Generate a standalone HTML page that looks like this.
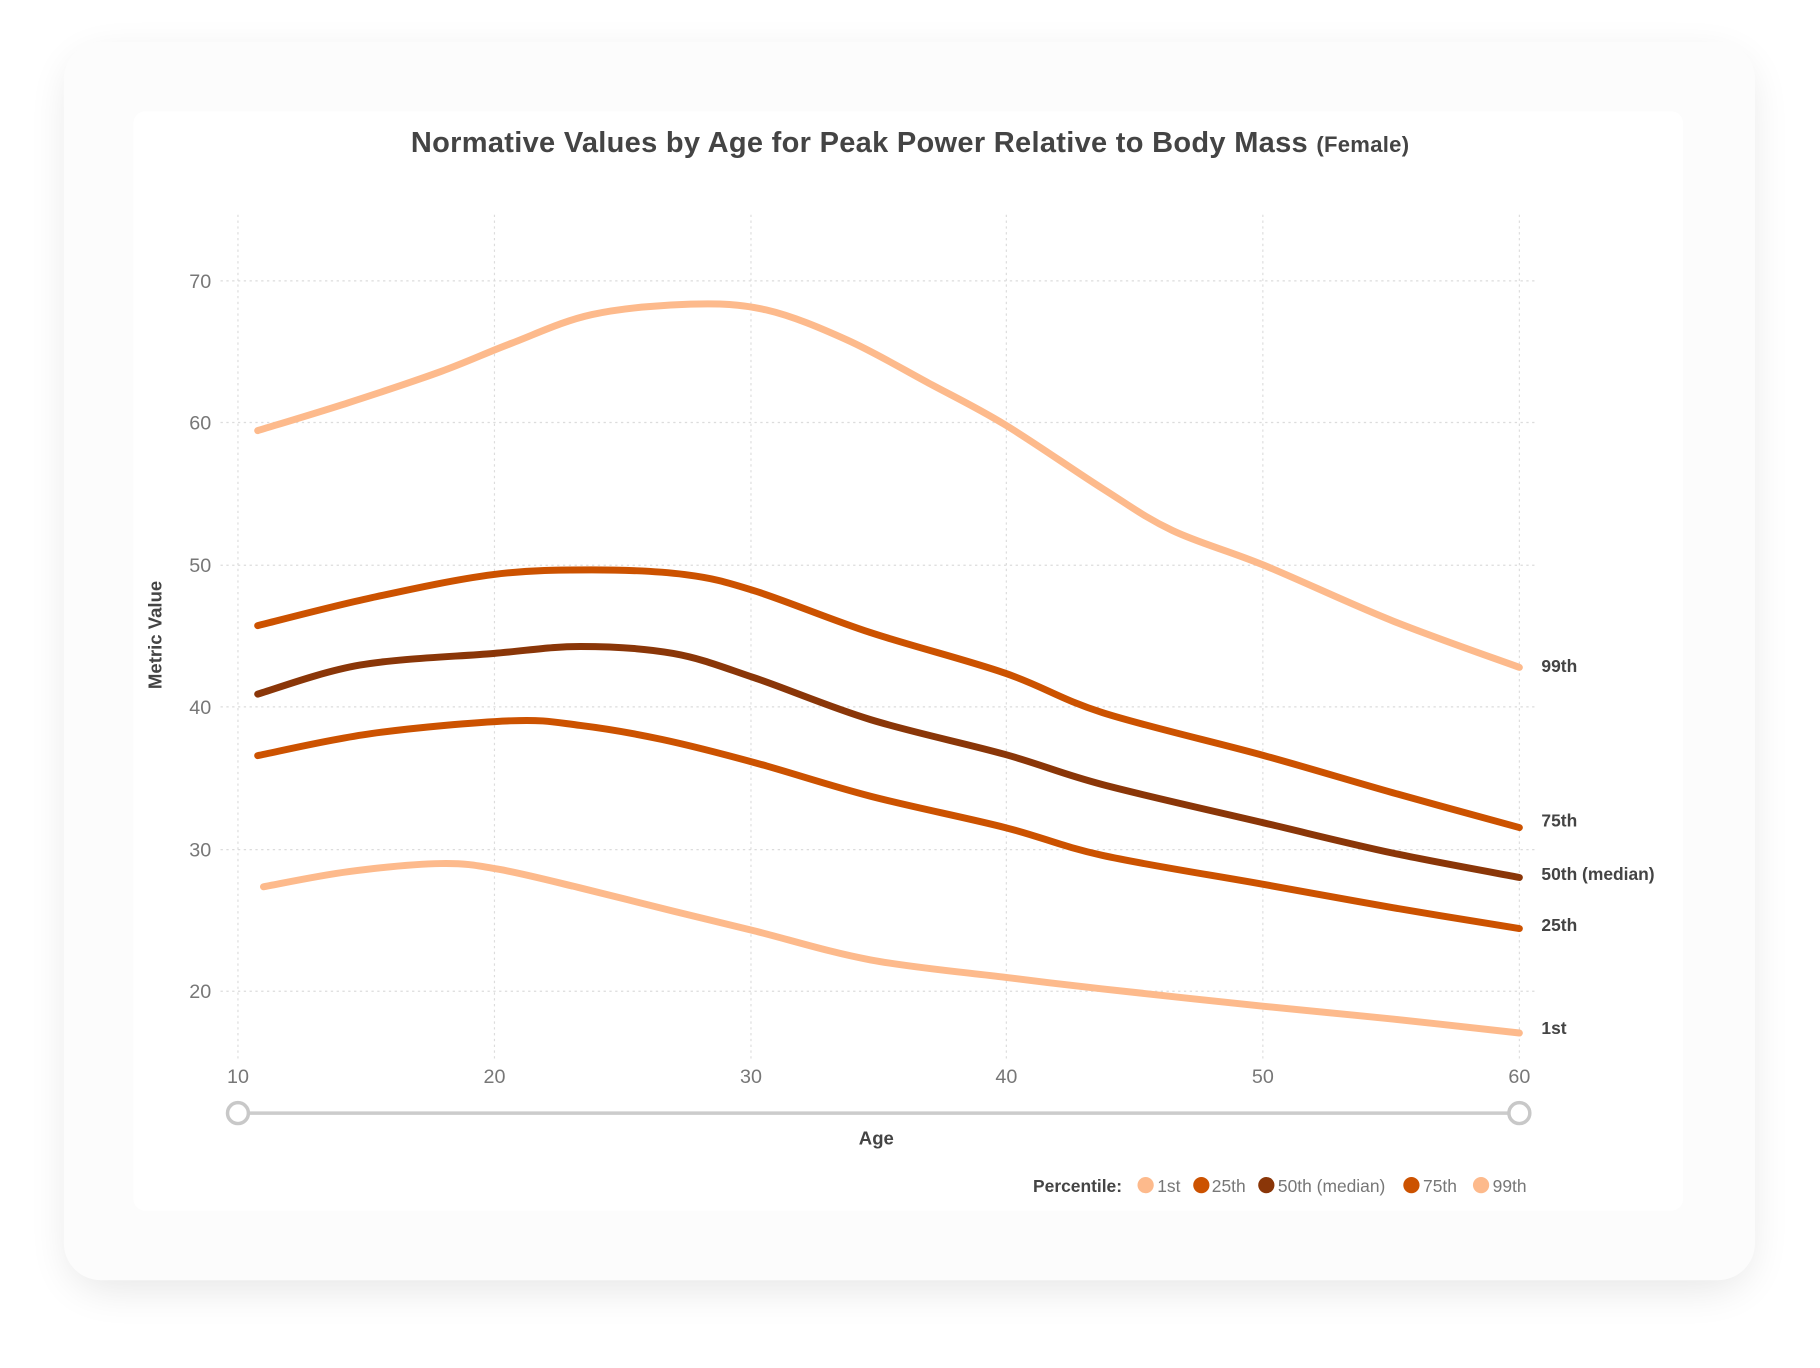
<!DOCTYPE html>
<html><head><meta charset="utf-8"><style>
html,body{margin:0;padding:0;background:#fff;width:1820px;height:1368px;overflow:hidden}
svg{display:block}
text{font-family:"Liberation Sans",sans-serif}
</style></head><body>
<svg width="1820" height="1368" viewBox="0 0 1568 1178.6" xmlns="http://www.w3.org/2000/svg">
<defs>
<filter id="sh" x="-10%" y="-10%" width="120%" height="125%"><feGaussianBlur stdDeviation="18"/></filter>
</defs>
<rect x="60" y="50" width="1447" height="1060" rx="32" fill="#000" opacity="0.10" filter="url(#sh)"/>
<rect x="55" y="36" width="1457" height="1067" rx="32" fill="#fcfcfc"/>
<rect x="115" y="96" width="1335" height="947" rx="10" fill="#fff"/>
<text x="784" y="131" text-anchor="middle" font-size="25" font-weight="bold" fill="#444" textLength="860">Normative Values by Age for Peak Power Relative to Body Mass <tspan font-size="19">(Female)</tspan></text>
<g stroke="#dcdcdc" stroke-width="1" stroke-dasharray="2,3">
<line x1="205" y1="185" x2="205" y2="915"/><line x1="426" y1="185" x2="426" y2="915"/>
<line x1="647" y1="185" x2="647" y2="915"/><line x1="867" y1="185" x2="867" y2="915"/>
<line x1="1088" y1="185" x2="1088" y2="915"/><line x1="1309" y1="185" x2="1309" y2="915"/>
<line x1="190" y1="242" x2="1322" y2="242"/><line x1="190" y1="364" x2="1322" y2="364"/>
<line x1="190" y1="487" x2="1322" y2="487"/><line x1="190" y1="609" x2="1322" y2="609"/>
<line x1="190" y1="732" x2="1322" y2="732"/><line x1="190" y1="854" x2="1322" y2="854"/>
</g>
<g font-size="17" fill="#777" text-anchor="end">
<text x="182" y="248">70</text><text x="182" y="370">60</text><text x="182" y="493">50</text>
<text x="182" y="615">40</text><text x="182" y="738">30</text><text x="182" y="860">20</text>
</g>
<g font-size="17" fill="#777" text-anchor="middle">
<text x="205" y="933">10</text><text x="426" y="933">20</text><text x="647" y="933">30</text>
<text x="867" y="933">40</text><text x="1088" y="933">50</text><text x="1309" y="933">60</text>
</g>
<text transform="translate(139,547) rotate(-90)" text-anchor="middle" font-size="16" font-weight="bold" fill="#444">Metric Value</text>
<line x1="205" y1="959" x2="1309" y2="959" stroke="#ccc" stroke-width="3"/>
<circle cx="205" cy="959" r="9" fill="#fff" stroke="#c8c8c8" stroke-width="3"/>
<circle cx="1309" cy="959" r="9" fill="#fff" stroke="#c8c8c8" stroke-width="3"/>
<text x="755" y="986" text-anchor="middle" font-size="16" font-weight="bold" fill="#444">Age</text>
<g id="curves" fill="none" stroke-width="6" stroke-linecap="round"></g>
<g font-size="15" font-weight="bold" fill="#444">
<text x="1328" y="579">99th</text><text x="1328" y="712">75th</text>
<text x="1328" y="758">50th (median)</text><text x="1328" y="802">25th</text><text x="1328" y="891">1st</text>
</g>
<g font-size="15" fill="#777">
<text x="890" y="1027" font-weight="bold" fill="#444">Percentile:</text>
<circle cx="987" cy="1021" r="7" fill="#fdba8c"/><text x="997" y="1027">1st</text>
<circle cx="1035" cy="1021" r="7" fill="#cc5200"/><text x="1044" y="1027">25th</text>
<circle cx="1091" cy="1021" r="7" fill="#8a3608"/><text x="1101" y="1027">50th (median)</text>
<circle cx="1216" cy="1021" r="7" fill="#cc5200"/><text x="1226" y="1027">75th</text>
<circle cx="1276" cy="1021" r="7" fill="#fdba8c"/><text x="1286" y="1027">99th</text>
</g>
</svg>
<script>
var S=[
["#fdba8c",[[222,371],[300,347],[380,320],[440,296],[510,271],[595,262],[660,267],[730,293],[800,330],[866,366],[950,421],[1010,457],[1089,487],[1200,535],[1309,575]]],
["#cc5200",[[222,539],[320,515],[425,495],[510,491],[590,495],[650,509],[750,545],[866,580],[950,614],[1089,651],[1200,683],[1309,713]]],
["#8a3608",[[222,598],[310,573],[425,563],[500,557],[580,563],[650,584],[750,620],[866,650],[950,676],[1089,709],[1200,735],[1309,756]]],
["#cc5200",[[222,651],[320,632],[440,621],[500,625],[570,637],[650,657],[750,686],[866,713],[950,737],[1089,762],[1200,782],[1309,800]]],
["#fdba8c",[[227,764],[300,751],[380,744],[430,749],[500,765],[580,785],[650,802],[750,827],[866,842],[950,852],[1089,867],[1200,878],[1309,890]]]
];
var g=document.getElementById('curves'),ns="http://www.w3.org/2000/svg";
S.forEach(function(s){var p=s[1],d="M"+p[0][0]+","+p[0][1];
for(var i=0;i<p.length-1;i++){var a=p[i-1]||p[i],b=p[i],c=p[i+1],e=p[i+2]||c;
d+=" C"+(b[0]+(c[0]-a[0])/6)+","+(b[1]+(c[1]-a[1])/6)+" "+(c[0]-(e[0]-b[0])/6)+","+(c[1]-(e[1]-b[1])/6)+" "+c[0]+","+c[1];}
var el=document.createElementNS(ns,"path");el.setAttribute("d",d);el.setAttribute("stroke",s[0]);g.appendChild(el);});
</script>
</body></html>
